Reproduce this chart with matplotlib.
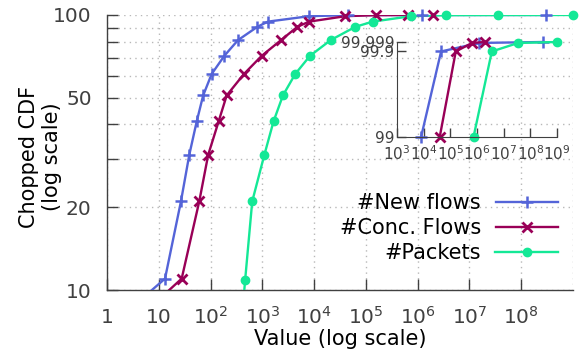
import matplotlib
matplotlib.use("Agg")
import matplotlib.pyplot as plt
from matplotlib.lines import Line2D
from matplotlib.ticker import FixedLocator, NullFormatter, NullLocator

# values (value, chopped CDF in %)
new_flows_x = [1, 13.2, 26.8, 38.8, 54, 72, 105, 184, 338, 804, 1283, 8e3, 4.5e4, 1.2e6, 3e8]
new_flows_y = [7.2, 11, 21, 31, 41, 51, 61, 71, 81, 90.6, 94.6, 99, 99.9, 99.99, 100]
conc_flows_x = [1, 27.7, 60.5, 90, 143, 205, 441, 969, 2290, 4760, 8000, 4e4, 1.6e5, 6.5e5, 2e6]
conc_flows_y = [6.2, 11, 21, 31, 41, 51, 61, 71, 81, 90.6, 94.6, 99, 99.9, 99.99, 100]
packets_x = [330, 466, 638, 1094, 1644, 2500, 4315, 8300, 2.08e4, 6.27e4, 1.36e5, 7.4e5, 3.6e6, 3.5e7, 1e9]
packets_y = [5, 10.9, 21, 31, 41, 51, 61, 71, 81, 90.6, 94.6, 99, 99.9, 99.99, 100]

labels = ["#New flows", "#Conc. Flows", "#Packets"]

x_ticks = [1, 10, 1e2, 1e3, 1e4, 1e5, 1e6, 1e7, 1e8]
x_ticklabels = ["1", "10"] + ["$10^{%d}$" % n for n in range(2, 9)]
y_ticks = [10, 20, 50, 100]
y_minor = [30, 40, 60, 70, 80, 90]

inset_x_ticks = [1e3, 1e4, 1e5, 1e6, 1e7, 1e8, 1e9]
inset_x_ticklabels = ["$10^{%d}$" % n for n in range(3, 10)]
inset_y_ticks = [99, 99.9, 99.999]
inset_y_ticklabels = ["99", "99.9", "99.999"]

series = [
    (new_flows_x, new_flows_y, "#5464d8", "+", 9, 1.8),
    (conc_flows_x, conc_flows_y, "#990057", "x", 7.5, 2.0),
    (packets_x, packets_y, "#14e896", "o", 6, 1.0),
]

plt.rcParams["font.family"] = "DejaVu Sans"
axcol = "#404040"
gridkw = dict(color="#b8b8b8", ls=(0, (1, 3)), lw=1)

fig = plt.figure(figsize=(5.81, 3.56), dpi=100)
ax = fig.add_axes([107 / 581, 1 - 290 / 356, 466 / 581, 275 / 356])

handles = []
for (xs, ys, col, mk, ms, mew), lab in zip(series, labels):
    ax.plot(xs, ys, color=col, lw=1.7, zorder=3)
    inside = [(a, b) for a, b in zip(xs, ys) if 10 <= b <= 100]
    ax.plot([p[0] for p in inside], [p[1] for p in inside], ls="none",
            marker=mk, ms=ms, mew=mew, color=col, clip_on=False, zorder=4)
    handles.append(Line2D([], [], color=col, lw=1.7, marker=mk, ms=ms, mew=mew))

ax.set_xscale("log")
ax.set_yscale("log")
ax.set_xlim(1, 1e9)
ax.set_ylim(10, 100)
ax.set_xticks(x_ticks)
ax.set_xticklabels(x_ticklabels, va="baseline")
ax.xaxis.set_minor_locator(NullLocator())
ax.set_yticks(y_ticks)
ax.set_yticklabels([str(v) for v in y_ticks])
ax.yaxis.set_minor_locator(FixedLocator(y_minor))
ax.yaxis.set_minor_formatter(NullFormatter())

ax.grid(True, which="major", axis="x", **gridkw)
ax.grid(True, which="both", axis="y", **gridkw)
ax.axvline(1e9, zorder=0, **gridkw)
ax.set_axisbelow(True)

for s in ["top", "right"]:
    ax.spines[s].set_visible(False)
for s in ["left", "bottom"]:
    ax.spines[s].set_color(axcol)
    ax.spines[s].set_linewidth(1)

ax.tick_params(which="both", direction="in", length=8, width=1, color=axcol,
               labelcolor=axcol, labelsize=14.5)
ax.tick_params(axis="y", which="both", pad=11)
ax.tick_params(axis="x", which="both", pad=24)

ax.set_xlabel("Value (log scale)", fontsize=15, va="baseline")
ax.xaxis.set_label_coords(0.5, -0.2)
ax.set_ylabel("Chopped CDF\n(log scale)", fontsize=15)
ax.yaxis.set_label_coords(-0.097, 0.485)

ax.legend(handles, labels, loc="upper right", bbox_to_anchor=(558 / 581, 1 - 193 / 356),
          bbox_transform=fig.transFigure, frameon=False, markerfirst=False,
          fontsize=15, handlelength=3.0, handletextpad=0.7, labelspacing=0.25,
          borderpad=0, borderaxespad=0)

# inset: the top of the CDF
axin = fig.add_axes([397 / 581, 1 - 137 / 356, 160 / 581, 95 / 356])
axin.patch.set_alpha(0)
for (xs, ys, col, mk, ms, mew) in series:
    top = [(a, b) for a, b in zip(xs, ys) if b >= 99]
    axin.plot([p[0] for p in top], [p[1] for p in top], color=col, lw=1.7,
              marker=mk, ms=ms, mew=mew, clip_on=False)
axin.set_xscale("log")
axin.set_yscale("log")
axin.set_xlim(1e3, 1e9)
axin.set_ylim(99, 100)
axin.set_xticks(inset_x_ticks)
axin.set_xticklabels(inset_x_ticklabels)
axin.xaxis.set_minor_locator(NullLocator())
axin.set_yticks(inset_y_ticks)
axin.set_yticklabels(inset_y_ticklabels)
axin.yaxis.set_minor_locator(NullLocator())
for s in ["top", "right"]:
    axin.spines[s].set_visible(False)
for s in ["left", "bottom"]:
    axin.spines[s].set_color(axcol)
axin.tick_params(which="both", direction="in", length=6.5, width=1, color=axcol,
                 labelcolor=axcol, labelsize=11)
axin.tick_params(axis="y", pad=2)
axin.tick_params(axis="x", pad=5)

fig.savefig("out.png", dpi=100)
